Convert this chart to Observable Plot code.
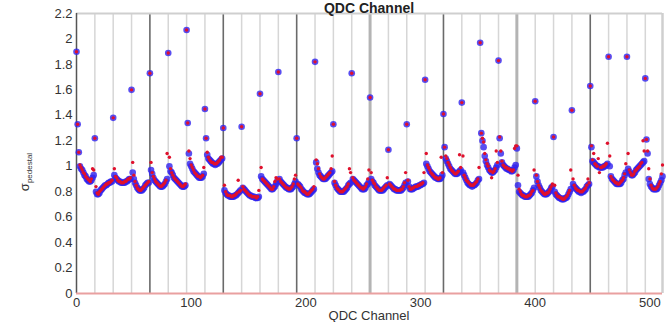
<!DOCTYPE html>
<html>
<head>
<meta charset="utf-8">
<script src="https://cdn.jsdelivr.net/npm/d3@7"></script>
<script src="https://cdn.jsdelivr.net/npm/@observablehq/plot@0.6"></script>
<style>
  html, body { margin: 0; padding: 0; background: #fff; overflow: hidden; }
  #chart svg { display: block; }
</style>
</head>
<body>
<div id="chart"></div>
<script>
// sigma_pedestal per QDC channel, one line per 16-channel group (red markers)
const sigmaRed = [
  1.90,1.33,1.11,1.01,0.99,0.97,0.95,0.94,0.92,0.91,0.90,0.89,0.88,0.90,0.98,0.97,
  1.22,0.84,0.79,0.78,0.80,0.81,0.82,0.83,0.84,0.85,0.86,0.86,0.87,0.87,0.88,0.89,
  1.38,0.98,0.92,0.91,0.89,0.88,0.88,0.87,0.87,0.87,0.88,0.88,0.89,0.90,0.90,0.91,
  1.60,1.03,0.93,0.88,0.85,0.83,0.82,0.81,0.81,0.82,0.83,0.84,0.85,0.86,0.87,0.88,
  1.73,1.03,0.95,0.92,0.90,0.88,0.87,0.86,0.85,0.84,0.84,0.85,0.86,0.87,0.89,1.10,
  1.89,1.07,0.98,0.95,0.93,0.91,0.90,0.89,0.88,0.87,0.86,0.85,0.84,0.84,0.85,0.86,
  2.07,1.34,1.12,1.06,1.01,0.99,0.97,0.95,0.94,0.93,0.92,0.92,0.91,0.92,0.93,0.99,
  1.45,1.22,1.11,1.07,1.05,1.04,1.03,1.03,1.02,1.02,1.02,1.03,1.04,1.05,1.07,1.07,
  1.30,0.85,0.80,0.78,0.77,0.77,0.77,0.76,0.76,0.77,0.77,0.78,0.79,0.89,0.80,0.81,
  1.31,0.84,0.82,0.81,0.80,0.79,0.78,0.77,0.77,0.76,0.76,0.76,0.76,0.75,0.76,0.81,
  1.57,0.99,0.90,0.89,0.88,0.87,0.86,0.85,0.84,0.83,0.82,0.82,0.84,0.88,0.91,0.90,
  1.74,0.90,0.88,0.87,0.86,0.85,0.84,0.83,0.83,0.82,0.82,0.83,0.84,0.86,0.90,0.93,
  1.22,0.86,0.85,0.84,0.83,0.81,0.80,0.80,0.79,0.78,0.78,0.79,0.80,0.81,0.82,0.84,
  1.82,1.05,1.02,0.98,0.94,0.92,0.91,0.90,0.90,0.91,0.92,0.93,0.94,0.95,0.98,1.08,
  1.33,0.88,0.85,0.83,0.82,0.81,0.80,0.80,0.80,0.81,0.82,0.83,0.84,0.86,0.98,0.95,
  1.73,0.91,0.89,0.88,0.87,0.86,0.85,0.84,0.83,0.83,0.82,0.83,0.84,0.86,0.90,0.97,
  1.54,0.95,0.89,0.87,0.86,0.84,0.83,0.82,0.81,0.81,0.81,0.82,0.83,0.84,0.85,0.91,
  1.13,0.86,0.85,0.84,0.83,0.82,0.82,0.81,0.81,0.81,0.81,0.82,0.82,0.84,0.87,0.95,
  1.33,0.89,0.84,0.82,0.82,0.83,0.83,0.84,0.84,0.84,0.85,0.85,0.86,0.86,0.87,0.95,
  1.68,1.10,1.01,0.99,0.97,0.95,0.94,0.93,0.92,0.91,0.91,0.90,0.90,0.91,1.07,0.95,
  1.41,1.15,1.08,1.06,1.03,1.01,0.99,0.97,0.96,0.95,0.94,0.94,0.95,0.96,1.09,0.99,
  1.50,1.08,0.93,0.91,0.89,0.88,0.87,0.86,0.85,0.85,0.85,0.86,0.87,0.88,0.90,0.99,
  1.97,1.26,1.22,1.19,1.10,1.05,1.02,1.00,0.97,0.96,0.91,0.95,0.96,0.98,1.12,1.03,
  1.83,1.23,1.12,1.04,1.01,1.00,0.99,0.99,0.98,0.98,0.97,0.97,0.96,0.97,1.14,1.16,
  1.16,0.93,0.82,0.80,0.78,0.77,0.77,0.76,0.76,0.76,0.77,0.77,0.78,0.80,0.81,0.97,
  1.51,0.93,0.88,0.85,0.83,0.81,0.80,0.79,0.78,0.78,0.79,0.79,0.80,0.82,0.84,0.86,
  1.23,0.85,0.79,0.77,0.76,0.76,0.75,0.75,0.74,0.74,0.75,0.76,0.77,0.79,0.81,0.97,
  1.44,0.90,0.85,0.83,0.82,0.81,0.81,0.80,0.80,0.80,0.81,0.82,0.83,0.85,0.90,0.87,
  1.63,1.16,1.05,1.10,1.02,1.01,1.00,1.06,0.95,0.99,0.99,1.00,1.00,1.01,1.02,1.18,
  1.86,1.08,0.92,0.90,0.89,0.88,0.87,0.87,0.86,0.86,0.87,0.88,0.89,0.91,0.94,1.02,
  1.86,1.10,0.97,0.95,0.93,0.93,0.94,0.96,0.97,0.98,0.99,1.00,1.02,1.03,1.20,1.12,
  1.69,1.21,1.12,0.98,0.90,0.85,0.83,0.82,0.82,0.82,0.83,0.84,0.86,0.88,0.94,1.01
];
// sigma_pedestal per QDC channel (blue markers)
const sigmaBlue = [
  1.90,1.33,1.11,1.00,0.98,0.97,0.95,0.93,0.92,0.90,0.89,0.88,0.88,0.89,0.91,0.93,
  1.22,0.80,0.78,0.78,0.79,0.81,0.82,0.83,0.84,0.85,0.85,0.86,0.87,0.87,0.88,0.88,
  1.38,0.93,0.91,0.90,0.89,0.88,0.88,0.87,0.87,0.87,0.87,0.88,0.88,0.89,0.90,0.90,
  1.60,0.95,0.90,0.87,0.85,0.83,0.82,0.81,0.81,0.81,0.82,0.83,0.85,0.86,0.87,0.87,
  1.73,0.97,0.94,0.91,0.89,0.88,0.87,0.86,0.85,0.84,0.84,0.84,0.85,0.86,0.88,0.90,
  1.89,1.00,0.96,0.95,0.93,0.91,0.90,0.89,0.88,0.87,0.86,0.85,0.84,0.84,0.84,0.85,
  2.07,1.34,1.10,1.02,1.00,0.98,0.96,0.95,0.94,0.93,0.92,0.91,0.91,0.91,0.92,0.94,
  1.45,1.22,1.09,1.06,1.05,1.04,1.03,1.02,1.02,1.01,1.02,1.02,1.03,1.04,1.05,1.06,
  1.30,0.81,0.79,0.78,0.77,0.77,0.76,0.76,0.76,0.76,0.77,0.77,0.78,0.79,0.80,0.81,
  1.31,0.83,0.82,0.81,0.80,0.79,0.78,0.77,0.77,0.76,0.76,0.76,0.75,0.75,0.75,0.76,
  1.57,0.92,0.90,0.89,0.88,0.87,0.86,0.85,0.84,0.83,0.82,0.82,0.83,0.84,0.86,0.88,
  1.74,0.90,0.88,0.87,0.86,0.85,0.84,0.83,0.83,0.82,0.82,0.82,0.83,0.84,0.86,0.88,
  1.22,0.86,0.85,0.84,0.82,0.81,0.80,0.79,0.79,0.78,0.78,0.78,0.79,0.80,0.81,0.82,
  1.82,1.03,0.98,0.95,0.93,0.92,0.91,0.90,0.90,0.90,0.91,0.92,0.93,0.94,0.95,0.96,
  1.33,0.87,0.85,0.83,0.82,0.81,0.80,0.80,0.80,0.80,0.81,0.82,0.83,0.85,0.86,0.87,
  1.73,0.90,0.89,0.88,0.87,0.86,0.85,0.84,0.83,0.82,0.82,0.82,0.83,0.85,0.86,0.88,
  1.54,0.90,0.88,0.87,0.85,0.84,0.83,0.82,0.81,0.81,0.81,0.81,0.82,0.83,0.84,0.85,
  1.13,0.86,0.85,0.84,0.83,0.82,0.82,0.81,0.81,0.81,0.81,0.81,0.82,0.83,0.85,0.87,
  1.33,0.88,0.84,0.82,0.82,0.82,0.83,0.83,0.84,0.84,0.84,0.85,0.85,0.86,0.86,0.87,
  1.68,1.02,1.00,0.98,0.96,0.95,0.94,0.93,0.92,0.91,0.91,0.90,0.90,0.90,0.91,0.93,
  1.41,1.15,1.06,1.04,1.02,1.00,0.98,0.97,0.96,0.95,0.94,0.94,0.94,0.95,0.96,0.97,
  1.50,0.95,0.93,0.91,0.89,0.87,0.86,0.85,0.85,0.84,0.85,0.85,0.86,0.87,0.89,0.90,
  1.97,1.26,1.20,1.15,1.08,1.04,1.01,0.99,0.97,0.96,0.95,0.95,0.96,0.97,0.99,1.01,
  1.83,1.22,1.10,1.03,1.01,1.00,0.99,0.98,0.98,0.97,0.97,0.96,0.96,0.97,0.99,1.01,
  1.14,0.85,0.80,0.79,0.78,0.77,0.77,0.76,0.76,0.76,0.76,0.77,0.78,0.79,0.81,0.83,
  1.51,0.92,0.88,0.85,0.83,0.81,0.80,0.79,0.78,0.78,0.78,0.79,0.80,0.81,0.83,0.84,
  1.23,0.80,0.78,0.77,0.76,0.75,0.75,0.74,0.74,0.74,0.75,0.75,0.76,0.78,0.80,0.82,
  1.44,0.86,0.84,0.83,0.82,0.81,0.80,0.80,0.79,0.80,0.80,0.81,0.82,0.84,0.85,0.86,
  1.63,1.15,1.04,1.03,1.02,1.01,1.00,1.00,0.99,0.99,0.99,0.99,1.00,1.00,1.01,1.02,
  1.86,1.00,0.92,0.90,0.89,0.88,0.87,0.86,0.86,0.86,0.86,0.87,0.89,0.90,0.93,0.95,
  1.86,0.98,0.96,0.94,0.93,0.93,0.94,0.95,0.97,0.98,0.99,1.00,1.01,1.02,1.03,1.04,
  1.69,1.21,1.10,0.90,0.86,0.84,0.83,0.82,0.82,0.82,0.82,0.83,0.85,0.87,0.89,0.92
];
const xTicks = [0, 100, 200, 300, 400, 500];
const yTicks = [0, 0.2, 0.4, 0.6, 0.8, 1, 1.2, 1.4, 1.6, 1.8, 2, 2.2];
const boardEdgesDark = [64, 128, 192, 320, 448];
const boardEdgesLight = [256, 384];
const groupEdges = [16,32,48,80,96,112,144,160,176,208,224,240,272,288,304,336,352,368,400,416,432,464,480,496];

const rows = sigmaRed.map((v, i) => ({ch: i, red: v, blue: sigmaBlue[i]}));

const chart = Plot.plot({
  width: 668,
  height: 322,
  marginLeft: 76,
  marginRight: 6,
  marginTop: 13,
  marginBottom: 29,
  style: {fontSize: "13px", fontFamily: "Liberation Sans, Arial, sans-serif", color: "#333", background: "#fff"},
  x: {domain: [0, 511]},
  y: {domain: [0, 2.2]},
  marks: [
    Plot.ruleX(groupEdges, {stroke: "#d6d6d6", strokeWidth: 1.5}),
    Plot.ruleX(boardEdgesLight, {stroke: "#b4b4b4", strokeWidth: 3}),
    Plot.ruleX(boardEdgesDark, {stroke: "#6a6a6a", strokeWidth: 1.6}),
    Plot.ruleX([511], {stroke: "#cfcfcf", strokeWidth: 2.5}),
    Plot.ruleY([2.2], {stroke: "#cfcfcf", strokeWidth: 2}),
    Plot.ruleX([0], {stroke: "#555", strokeWidth: 1.5}),
    Plot.ruleY([0], {stroke: "#e9a0a0", strokeWidth: 1.8}),
    Plot.axisX({ticks: xTicks, tickSize: 0, tickPadding: 4, label: null, tickFormat: d3.format("d")}),
    Plot.axisY({ticks: yTicks, tickSize: 0, tickPadding: 4, label: null, tickFormat: d3.format("~g")}),
    Plot.dot(rows, {x: "ch", y: "blue", r: 3.3, fill: "#2f22ee", fillOpacity: 0.8, stroke: "none"}),
    Plot.dot(rows, {x: "ch", y: "red", r: 1.7, fill: "#e0102c", stroke: "none"})
  ]
});

const svg = d3.select(chart);
svg.append("text")
  .attr("x", 369).attr("y", 12.8)
  .attr("text-anchor", "middle")
  .attr("font-size", 14).attr("font-weight", "bold")
  .attr("fill", "#222")
  .text("QDC Channel");
svg.append("text")
  .attr("x", 369).attr("y", 320)
  .attr("text-anchor", "middle")
  .attr("font-size", 13)
  .attr("fill", "#333")
  .text("QDC Channel");
const yl = svg.append("text")
  .attr("transform", "translate(29,172) rotate(-90)")
  .attr("fill", "#333");
yl.append("tspan").attr("font-size", 13).text("σ");
yl.append("tspan").attr("font-size", 8).attr("dy", 3).text("pedestal");

document.getElementById("chart").appendChild(chart);
</script>
</body>
</html>
